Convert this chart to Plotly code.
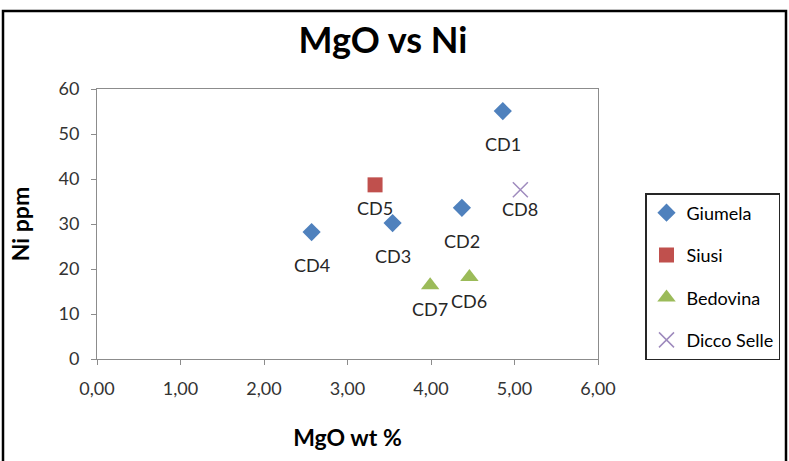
import plotly.graph_objects as go

series_names = ["Giumela", "Siusi", "Bedovina", "Dicco Selle"]
giumela_mgo = [4.86, 4.37, 3.54, 2.57]
giumela_ni = [55.1, 33.6, 30.2, 28.2]
giumela_lbl = ["CD1", "CD2", "CD3", "CD4"]
siusi_mgo = [3.33]
siusi_ni = [38.7]
siusi_lbl = ["CD5"]
bedovina_mgo = [4.46, 3.99]
bedovina_ni = [18.2, 16.4]
bedovina_lbl = ["CD6", "CD7"]
dicco_mgo = [5.07]
dicco_ni = [37.6]
dicco_lbl = ["CD8"]

x_ticks = [0, 1, 2, 3, 4, 5, 6]
y_ticks = [0, 10, 20, 30, 40, 50, 60]

FONT = "Lato"
W, H = 789, 461
L, R, T, B = 97, 598, 89, 359

fig = go.Figure()

specs = [
    (giumela_mgo, giumela_ni, giumela_lbl, "diamond", 14, "#4F81BD", 33),
    (siusi_mgo, siusi_ni, siusi_lbl, "square", 15, "#C0504D", 23),
    (bedovina_mgo, bedovina_ni, bedovina_lbl, "triangle-up", 16, "#9BBB59", 24),
    (dicco_mgo, dicco_ni, dicco_lbl, "x-thin", 15, "#9F8BBE", 19),
]

annotations = []
for name, (xs, ys, lbls, sym, size, col, off) in zip(series_names, specs):
    marker = dict(symbol=sym, size=size, color=col)
    if sym == "x-thin":
        marker["line"] = dict(color=col, width=1.5)
    fig.add_trace(go.Scatter(x=xs, y=ys, mode="markers", name=name,
                             legendgroup=name, marker=marker))
    for x, y, t in zip(xs, ys, lbls):
        annotations.append(dict(x=x, y=y, xref="x", yref="y", text=t,
                                showarrow=False, yshift=-off,
                                font=dict(family=FONT, size=18, color="#262626")))

def px2x(p):
    return (p - L) / (R - L)

def px2y(p):
    return (B - p) / (B - T)

fig.update_layout(
    width=W, height=H,
    margin=dict(l=L, r=W - R, t=T, b=H - B, autoexpand=False),
    paper_bgcolor="white", plot_bgcolor="white",
    separators=", ",
    title=dict(text="<b>MgO vs Ni</b>", x=px2x(383), xref="paper", xanchor="center",
               y=1 - 40 / H, yanchor="middle",
               font=dict(family=FONT, size=36, color="#000")),
    xaxis=dict(range=[0, 6], tickvals=x_ticks, tickformat=".2f", automargin=False,
               showgrid=False, zeroline=False, showline=True, linecolor="#8c8c8c",
               linewidth=1, mirror=True, ticks="outside", ticklen=5,
               tickcolor="#8c8c8c", ticklabelstandoff=8,
               tickfont=dict(family=FONT, size=18, color="#333"),
               title=dict(text="<b>MgO wt %</b>", standoff=32,
                          font=dict(family=FONT, size=23, color="#000"))),
    yaxis=dict(range=[0, 60], tickvals=y_ticks, automargin=False,
               showgrid=False, zeroline=False, showline=True, linecolor="#8c8c8c",
               linewidth=1, mirror=True, ticks="outside", ticklen=5,
               tickcolor="#8c8c8c", ticklabelstandoff=8,
               tickfont=dict(family=FONT, size=18, color="#333"),
               title=dict(text="<b>Ni ppm</b>", standoff=22,
                          font=dict(family=FONT, size=23, color="#000"))),
    legend=dict(x=px2x(645), y=px2y(193), xanchor="left", yanchor="top",
                bordercolor="#262626", borderwidth=1.5, bgcolor="white",
                tracegroupgap=16, itemwidth=30,
                font=dict(family=FONT, size=18, color="#000")),
    annotations=annotations,
    shapes=[dict(type="rect", xref="paper", yref="paper",
                 x0=px2x(3), x1=px2x(786), y0=px2y(470), y1=px2y(11),
                 line=dict(color="#000", width=2.5), fillcolor="rgba(0,0,0,0)",
                 layer="below")],
)

fig.write_html("out.html")
